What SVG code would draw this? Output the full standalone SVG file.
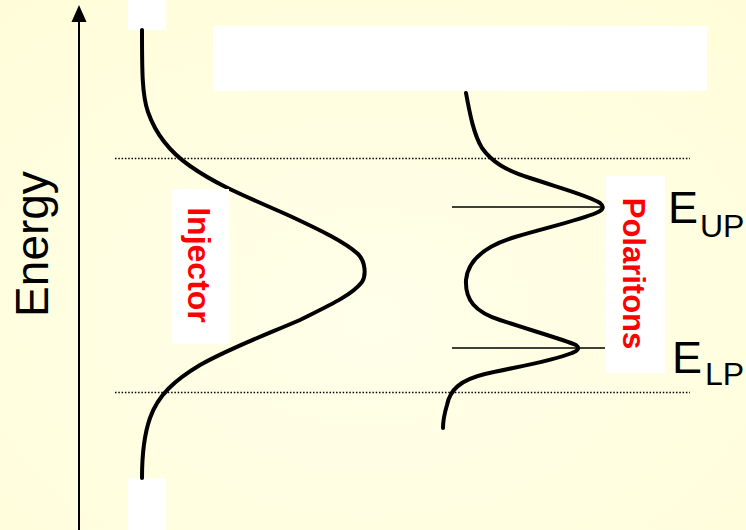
<svg xmlns="http://www.w3.org/2000/svg" width="746" height="530" viewBox="0 0 746 530">
<defs>
<radialGradient id="bg" cx="0.5" cy="0.6" r="0.75">
<stop offset="0" stop-color="#FFFFEA"/>
<stop offset="1" stop-color="#FFFDD9"/>
</radialGradient>
<marker id="arr" viewBox="0 0 10 10" refX="9" refY="5" markerWidth="10" markerHeight="10" markerUnits="userSpaceOnUse" orient="auto">
<path d="M0,0 L10,5 L0,10 Z" fill="#000"/>
</marker>
<style>
.curve{fill:none;stroke:#000;stroke-width:4;stroke-linecap:round;stroke-linejoin:round}
.level{stroke:#000;stroke-width:1.5}
.dot{stroke:#000;stroke-width:1.5;stroke-dasharray:1.5 1.8}
.box{fill:#FFFFFF}
.lbl{font-family:"Liberation Sans",Arial,sans-serif;font-weight:bold;fill:#FF0000;text-anchor:middle}
.blk{font-family:"Liberation Sans",Arial,sans-serif;fill:#000}
</style>
</defs>
<rect width="746" height="530" fill="url(#bg)"/>
<g id="white-boxes">
<rect class="box" x="128" y="0" width="38" height="30"/>
<rect class="box" x="128" y="478" width="38" height="52"/>
<rect class="box" x="213" y="26" width="494" height="65"/>
</g>
<g id="connectors">
<line x1="79" y1="530" x2="79" y2="22" stroke="#000" stroke-width="2"/>
<path d="M79,5 L71.5,22 L86.5,22 Z" fill="#000"/>
<line class="dot" x1="115" y1="158.5" x2="690" y2="158.5"/>
<line class="dot" x1="115" y1="392.5" x2="690" y2="392.5"/>
<line class="level" x1="452" y1="207" x2="603" y2="207"/>
<line class="level" x1="452" y1="348" x2="605" y2="348"/>
</g>
<g id="axis-label">
<text class="blk" transform="translate(48,244) rotate(-90)" font-size="46" text-anchor="middle">Energy</text>
</g>
<g id="injector">
<path class="curve" d="M142,30 C142,70 142,95 148,112 C156,135 170,152 190,166 C220,187 250,198 290,216 C320,230 345,242 358,254 C366,262 366,276 362,282 C352,295 330,305 300,320 C265,335 230,348 200,365 C175,380 158,395 150,418 C143,438 142,460 142,478"/>
<rect class="box" x="172" y="189" width="57" height="155"/>
<text class="lbl" transform="translate(188,265) rotate(90)" font-size="32">Injector</text>
</g>
<g id="polaritons">
<path class="curve" d="M466,93 C470,115 474,135 482,148 C492,162 505,170 530,178 C560,188 590,196 600,203 C605,207 603,210 596,213 C580,220 545,228 515,237 C485,246 468,260 466,280 C465,300 475,312 500,320 C530,330 565,340 576,345 C580,348 578,351 572,353 C550,362 510,368 485,374 C460,380 450,390 447,405 C444,415 443,420 443,428"/>
<rect class="box" x="606" y="176" width="59" height="197"/>
<text class="lbl" transform="translate(623,273.5) rotate(90)" font-size="31">Polaritons</text>
</g>
<g id="e-up">
<text class="blk" x="668" y="223" font-size="45">E</text>
<text class="blk" x="700" y="237" font-size="32">UP</text>
</g>
<g id="e-lp">
<text class="blk" x="672" y="373" font-size="45">E</text>
<text class="blk" x="705" y="385" font-size="32">LP</text>
</g>
</svg>
